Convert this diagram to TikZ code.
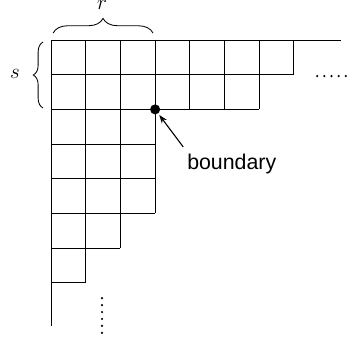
\documentclass[tikz,border=0pt]{standalone}
\usepackage{fontspec}
\newfontfamily\labelfont{Liberation Sans}
\usetikzlibrary{decorations.pathreplacing,arrows.meta,calc}
\begin{document}
\begin{tikzpicture}[x=1cm,y=1cm,
  gridline/.style={line width=0.8pt},
  bracestyle/.style={line width=0.7pt, decorate},
  dotmark/.style={fill=black},
  lbl/.style={inner sep=0pt, font=\labelfont\fontsize{17.5}{21}\selectfont},
  mathlbl/.style={inner sep=0pt, font=\fontsize{17}{20}\selectfont}]
\useasboundingbox (-1.470,-8.732) rectangle (8.646,1.153);
% rows of cells
\foreach \row/\len in {1/7,2/6,3/3,4/3,5/3,6/2,7/1}{
  \draw[gridline] (0,-\row) -- (\len,-\row);
  \foreach \c in {1,...,\len}{
    \draw[gridline] (\c,-\row+1) -- (\c,-\row);
  }
}
% outer lines
\draw[gridline] (0,0) -- (8.36,0);
\draw[gridline] (0,0) -- (0,-8.24);
% horizontal dots
\foreach \i in {0,...,4}{ \fill[dotmark] (7.67+\i*0.207,-1.04) circle (0.035); }
% vertical dots
\foreach \i in {0,...,5}{ \fill[dotmark] (1.47,-7.44-\i*0.2) circle (0.035); }
% braces
\draw[bracestyle, decoration={brace, amplitude=12pt}] (0.06,0.2) -- (2.94,0.2);
\node[mathlbl, anchor=base] (rlab) at (1.47,0.89) {$r$};
\draw[bracestyle, decoration={brace, amplitude=8pt}] (-0.23,-1.96) -- (-0.23,-0.06);
\node[mathlbl, anchor=base] (slab) at (-1.04,-1.12) {$s$};
% boundary point
\coordinate (bd) at (3,-2);
\fill (bd) circle (0.145);
\node[lbl, anchor=base west] (blab) at (3.92,-3.72) {boundary};
\coordinate (tail) at (3.81,-3.08);
\draw[line width=0.9pt, -{Stealth[length=7pt,width=5pt]}] (tail) -- ($(bd)!0.2cm!(tail)$);
\end{tikzpicture}
\end{document}
